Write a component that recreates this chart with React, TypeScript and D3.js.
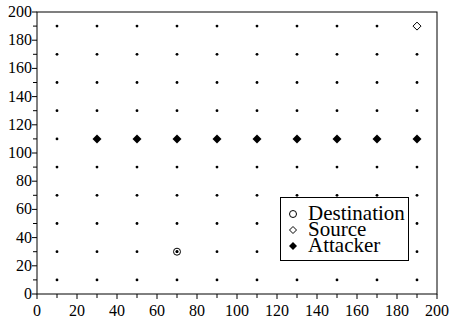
import React from "react"
import * as d3 from "d3"

const gridX = [10, 30, 50, 70, 90, 110, 130, 150, 170, 190]
const gridY = [10, 30, 50, 70, 90, 110, 130, 150, 170, 190]
const attackerX = [30, 50, 70, 90, 110, 130, 150, 170, 190]
const attackerY = [110, 110, 110, 110, 110, 110, 110, 110, 110]
const source = [190, 190]
const destination = [70, 30]
const majorTicks = [0, 20, 40, 60, 80, 100, 120, 140, 160, 180, 200]
const minorTicks = [10, 30, 50, 70, 90, 110, 130, 150, 170, 190]
const legendLabels = ["Destination", "Source", "Attacker"]

const W = 451
const H = 321
const left = 37
const right = 437
const top = 12
const bottom = 294

export default function App() {
  const x = d3.scaleLinear().domain([0, 200]).range([left, right])
  const y = d3.scaleLinear().domain([0, 200]).range([bottom, top])
  const font = "Liberation Serif"

  const diamond = (cx: number, cy: number, r: number) =>
    `M${cx},${cy - r}L${cx + r},${cy}L${cx},${cy + r}L${cx - r},${cy}Z`

  const dots: [number, number][] = []
  gridX.forEach(gx => gridY.forEach(gy => dots.push([gx, gy])))

  const lx = 293
  const ly = [214, 230, 246]

  return (
    <svg width={W} height={H} style={{ position: "absolute", left: 0, top: 0 }}>
      <rect x={0} y={0} width={W} height={H} fill="#fff" />
      <rect x={left} y={top} width={right - left} height={bottom - top} fill="none" stroke="#000" strokeWidth={1} />
      {majorTicks.map(t => (
        <g key={"mx" + t}>
          <line x1={x(t)} x2={x(t)} y1={bottom} y2={bottom + 5} stroke="#000" />
          <text x={x(t)} y={316} textAnchor="middle" fontFamily={font} fontSize={16}>{t}</text>
          <line x1={left - 5} x2={left} y1={y(t)} y2={y(t)} stroke="#000" />
          <text x={left - 5} y={y(t) + 5} textAnchor="end" fontFamily={font} fontSize={16}>{t}</text>
        </g>
      ))}
      {minorTicks.map(t => (
        <g key={"mn" + t}>
          <line x1={x(t)} x2={x(t)} y1={bottom} y2={bottom + 4} stroke="#000" />
          <line x1={left - 4} x2={left} y1={y(t)} y2={y(t)} stroke="#000" />
        </g>
      ))}
      {dots.map(([dx, dy]) => (
        <circle key={dx + "-" + dy} cx={x(dx)} cy={y(dy)} r={1.4} fill="#000" />
      ))}
      {attackerX.map((ax, i) => (
        <path key={"a" + i} d={diamond(x(ax), y(attackerY[i]), 4.5)} fill="#000" />
      ))}
      <path d={diamond(x(source[0]), y(source[1]), 4)} fill="#fff" stroke="#000" strokeWidth={1} />
      <circle cx={x(destination[0])} cy={y(destination[1])} r={3.5} fill="none" stroke="#000" strokeWidth={1} />
      <circle cx={x(destination[0])} cy={y(destination[1])} r={1.4} fill="#000" />

      <rect x={280.5} y={197.5} width={128} height={63} fill="#fff" stroke="#000" strokeWidth={1} />
      <circle cx={lx} cy={ly[0]} r={3.5} fill="none" stroke="#000" />
      <path d={diamond(lx, ly[1], 3.5)} fill="#fff" stroke="#000" />
      <path d={diamond(lx, ly[2], 4)} fill="#000" />
      {legendLabels.map((l, i) => (
        <text key={l} x={308} y={ly[i] + 6} fontFamily={font} fontSize={21}>{l}</text>
      ))}
    </svg>
  )
}
